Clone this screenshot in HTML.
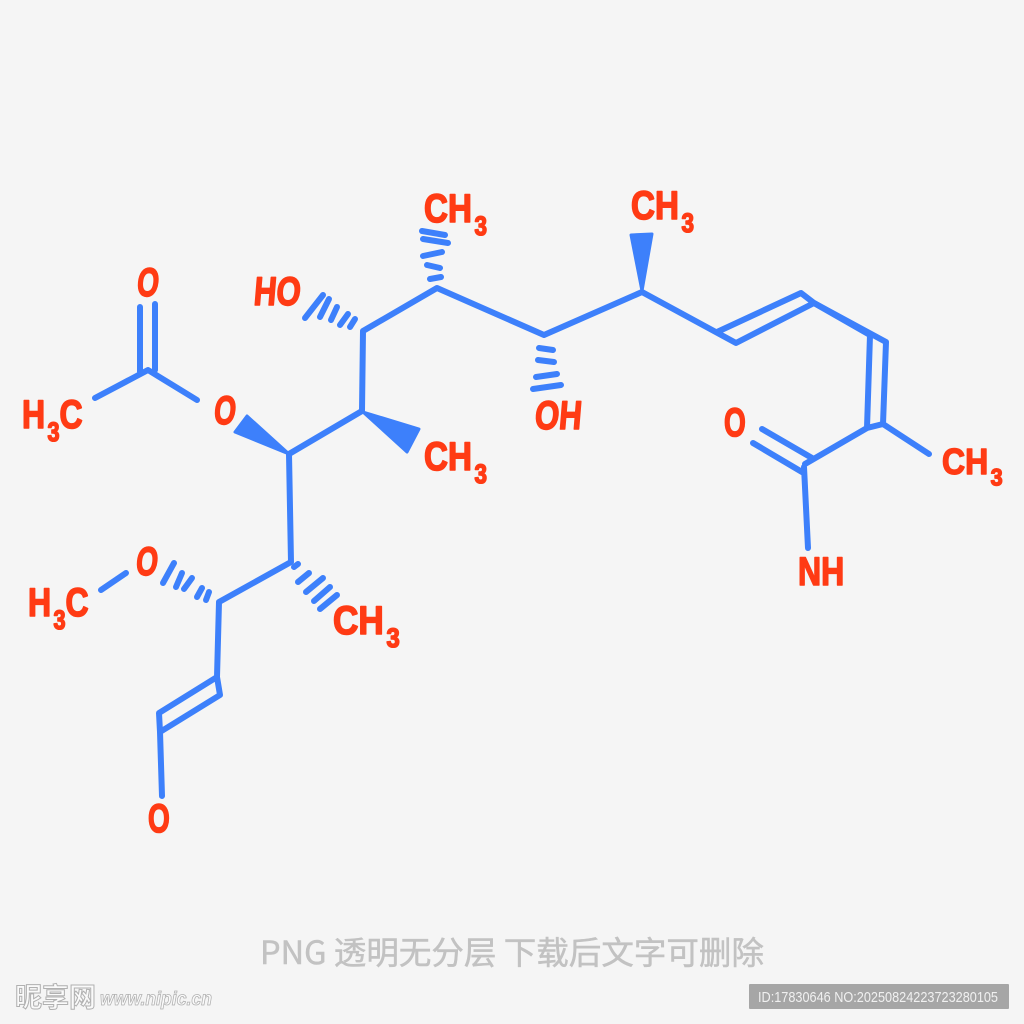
<!DOCTYPE html>
<html><head><meta charset="utf-8"><style>
html,body{margin:0;padding:0;background:#f5f5f5}
svg{display:block}
.b{stroke:#3d80fb;stroke-width:6;stroke-linecap:round;stroke-linejoin:round;fill:none}
.w{fill:#3d80fb;stroke:#3d80fb;stroke-width:3;stroke-linejoin:round}
.t{font-family:"Liberation Sans",sans-serif;font-weight:700;font-size:40px;fill:#ff3b14;stroke:#ff3b14;stroke-width:1.6;stroke-linejoin:round}
.s{font-size:27px}
</style></head><body>
<svg width="1024" height="1024" viewBox="0 0 1024 1024" xmlns="http://www.w3.org/2000/svg">
<rect width="1024" height="1024" fill="#f5f5f5"/>
<g class="b">
<path d="M95 398L148 370L197 400M140 307V372M155 304V370"/>
<path d="M289 454L362 411L363 331L437 288L544 335L642 292L736 343L814 303L886 342L883 424L929 454"/>
<path d="M717 332L801 293L814 303L870 335L867 428L883 424M867 428L805 464M762 429L812 458M753 443L802 472M804 467L808 548"/>
<path d="M289 454L291 562L219 602L217 677L159 713L160 732L220 695L217 677M160 732L162 796M101 590L126 573"/>
<path d="M174 563L163 583M182 573L176 587M192 578L184 589M202 588L197 597M209 592L206 600"/>
<path d="M298 564L294 567M309 573L298 582M323 578L306 592M330 587L314 601M337 595L320 609"/>
<path d="M323 295L305 318M329 299L320 317M337 307L331 320M348 314L340 325M355 319L350 327"/>
<path d="M422 231L445 235M423 239L448 243M423 256L442 252M427 265L440 268M430 279L441 277"/>
<path d="M539 348L553 350M538 360L554 362M536 377L557 374M533 389L561 385"/>
</g>
<polygon class="w" points="289,454 247,416 235,432"/>
<polygon class="w" points="363,412 419,429 407,452"/>
<polygon class="w" points="642,291 631,235 652,234"/>
<g class="t">
<text transform="translate(424,222) scale(.83,1)">CH<tspan class="s" dx="3" dy="13">3</tspan></text>
<text transform="translate(631,219) scale(.83,1)">CH<tspan class="s" dx="3" dy="13">3</tspan></text>
<text transform="translate(424,470) scale(.83,1)">CH<tspan class="s" dx="3" dy="13">3</tspan></text>
<text transform="translate(333,634) scale(.88,1)">CH<tspan class="s" dx="3" dy="13">3</tspan></text>
<text transform="translate(942,474) scale(.8,.9)">CH<tspan class="s" dx="3" dy="13">3</tspan></text>
<text transform="translate(253,305) scale(.78,1) skewX(-6)">HO</text>
<text transform="translate(534,429) scale(.78,1) skewX(-6)">OH</text>
<text transform="translate(213,424) scale(.7,1) skewX(-8)">O</text>
<text transform="translate(136,296) scale(.7,1) skewX(-8)">O</text>
<text transform="translate(135,575) scale(.7,1) skewX(-8)">O</text>
<text transform="translate(148,832) scale(.7,1)">O</text>
<text transform="translate(724,436) scale(.7,1)">O</text>
<text transform="translate(798,585) scale(.8,1)">NH</text>
<text transform="translate(22,428) scale(.8,1)">H<tspan class="s" dx="3" dy="13">3</tspan><tspan dy="-13">C</tspan></text>
<text transform="translate(28,616) scale(.8,1)">H<tspan class="s" dx="3" dy="13">3</tspan><tspan dy="-13">C</tspan></text>
</g>
<text x="260" y="964" font-family="'Noto Sans CJK SC',sans-serif" font-size="32" fill="#c2c2c2" stroke="#c2c2c2" stroke-width=".5" textLength="504" lengthAdjust="spacingAndGlyphs">PNG 透明无分层 下载后文字可删除</text>
<rect x="749" y="984" width="260" height="25" rx="1" fill="#a6a6a6"/>
<text x="758" y="1002" font-family="'Liberation Sans',sans-serif" font-size="15" fill="#f0f0f0" textLength="240" lengthAdjust="spacingAndGlyphs">ID:17830646 NO:20250824223723280105</text>
<text x="15" y="1007" font-family="'Noto Sans CJK SC',sans-serif" font-weight="700" font-size="27" fill="#fafafa" stroke="#b0b0b0" stroke-width="1" textLength="81" lengthAdjust="spacingAndGlyphs">昵享网</text>
<text x="100" y="1005" font-family="'Liberation Sans',sans-serif" font-weight="700" font-style="italic" font-size="19" fill="#fafafa" stroke="#b0b0b0" stroke-width=".8" textLength="112" lengthAdjust="spacingAndGlyphs">www.nipic.cn</text>
</svg>
</body></html>
